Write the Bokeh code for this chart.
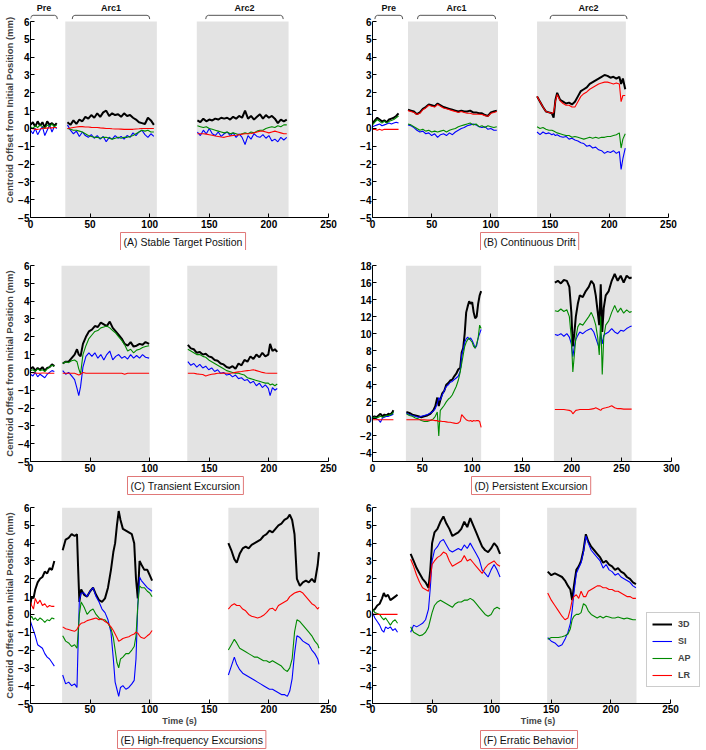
import math
from bokeh.plotting import figure
from bokeh.layouts import column, row
from bokeh.models import Range1d, FixedTicker, Legend, LegendItem, Title
from bokeh.embed import file_html
from bokeh.resources import INLINE
from bokeh.core.properties import value

NAN = float("nan")
SERIES = ["3D", "SI", "AP", "LR"]
COLORS = {"3D": "#000000", "SI": "#0000ff", "AP": "#008a00", "LR": "#ff0000"}

# ---------------- Panel A: Stable Target Position ----------------
A_t = [[0, 2, 4, 6, 8, 10, 12, 14, 16, 18, 20, 22],
       [31, 33.5, 36, 38.5, 41, 43.5, 46, 48.5, 51, 53.5, 56, 58.5, 61, 63.5, 66, 68.5, 71, 73.5, 76, 78.5,
        81, 83.5, 86, 88.5, 91, 93.5, 96, 98.5, 101, 103.5],
       [140, 142.5, 145, 147.5, 150, 152.5, 155, 157.5, 160, 162.5, 165, 167.5, 170, 172.5, 175, 177.5, 180,
        182.5, 185, 187.5, 190, 192.5, 195, 197.5, 200, 202.5, 205, 207.5, 210, 212.5, 215]]
A_3d = [[0.2, 0.35, 0.1, 0.4, 0.15, 0.35, 0.05, 0.4, 0.2, 0.3, 0.15, 0.3],
        [0.35, 0.2, 0.45, 0.25, 0.5, 0.4, 0.65, 0.55, 0.75, 0.6, 0.85, 0.65, 0.9, 1.0, 0.7, 0.85, 0.75, 0.8, 0.65,
         0.85, 0.7, 0.75, 0.6, 0.5, 0.35, 0.3, 0.25, 0.6, 0.45, 0.2],
        [0.45, 0.35, 0.55, 0.4, 0.5, 0.45, 0.55, 0.5, 0.6, 0.55, 0.6, 0.5, 0.65, 0.55, 0.7, 0.6, 1.0, 0.55, 0.7,
         0.5, 0.65, 0.8, 0.55, 0.75, 0.6, 0.7, 0.55, 0.3, 0.5, 0.4, 0.5]]
A_si = [[-0.1, -0.3, 0.0, -0.35, -0.1, 0.1, -0.4, -0.1, 0.2, -0.2, 0.1, 0.0],
        [0.2, -0.1, -0.3, -0.15, -0.45, -0.2, -0.4, -0.5, -0.35, -0.55, -0.4, -0.6, -0.45, -0.75, -0.5, -0.6,
         -0.4, -0.55, -0.45, -0.6, -0.4, -0.5, -0.25, -0.4, -0.2, -0.1, -0.35, -0.5, -0.3, -0.45],
        [-0.2, -0.4, -0.1, -0.3, 0.0, -0.3, -0.4, -0.2, -0.45, -0.3, -0.2, -0.4, -0.25, -0.5, -0.3, -0.5, -0.9,
         -0.4, -0.6, -0.3, -0.45, -0.5, -0.35, -0.55, -0.4, -0.7, -0.6, -0.75, -0.5, -0.65, -0.5]]
A_ap = [[0.1, 0.0, 0.15, 0.05, 0.2, 0.1, 0.0, 0.2, 0.1, 0.25, 0.1, 0.2],
        [0.0, -0.05, -0.1, -0.1, -0.15, -0.2, -0.3, -0.4, -0.45, -0.5, -0.5, -0.55, -0.5, -0.5, -0.55, -0.6,
         -0.55, -0.5, -0.55, -0.5, -0.5, -0.45, -0.4, -0.3, -0.2, -0.1, -0.15, -0.1, -0.2, -0.2],
        [0.15, 0.1, 0.05, 0.1, 0.0, -0.05, -0.1, -0.15, -0.2, -0.25, -0.2, -0.3, -0.25, -0.3, -0.35, -0.3, -0.25,
         -0.3, -0.2, -0.25, -0.15, -0.1, -0.1, 0.0, 0.05, 0.1, 0.05, 0.15, 0.1, 0.2, 0.2]]
A_lr = [[0.0, -0.02, -0.05, -0.05, -0.03, 0.0, 0.02, 0.02, 0.03, 0.03, 0.05, 0.05],
        [0.0, 0.02, 0.05, 0.08, 0.1, 0.1, 0.08, 0.08, 0.06, 0.05, 0.05, 0.03, 0.02, 0.0, 0.0, -0.02, -0.03,
         -0.03, -0.04, -0.05, -0.05, -0.05, -0.05, -0.03, -0.02, 0.0, 0.0, 0.0, 0.0, 0.0],
        [-0.3, -0.3, -0.3, -0.32, -0.35, -0.38, -0.42, -0.45, -0.48, -0.5, -0.45, -0.42, -0.4, -0.38, -0.35,
         -0.32, -0.3, -0.3, -0.28, -0.25, -0.2, -0.15, -0.15, -0.2, -0.25, -0.2, -0.15, -0.2, -0.25, -0.3, -0.3]]
A_arcs = [[29.2, 106], [139.5, 216.5]]
A_brackets = [[0, 22.5], [35, 100], [147, 212]]

# ---------------- Panel B: Continuous Drift ----------------
B_t = [[0, 2, 4, 6, 8, 10, 12, 14, 16, 18, 20, 22],
       [30, 32.5, 35, 37.5, 40, 42.5, 45, 47.5, 50, 52.5, 55, 57.5, 60, 62.5, 65, 67.5, 70, 72.5, 75, 77.5,
        80, 82.5, 85, 87.5, 90, 92.5, 95, 97.5, 100, 102.5, 105],
       [139, 141.5, 144, 146.5, 149, 151.5, 153, 154.5, 156, 158.5, 161, 163.5, 166, 168.5, 171, 173.5, 176,
        178.5, 181, 183.5, 186, 188.5, 191, 193.5, 196, 198.5, 201, 203.5, 206, 208.5, 210, 211.5, 213.5]]
B_3d = [[0.3, 0.45, 0.6, 0.5, 0.4, 0.45, 0.35, 0.5, 0.55, 0.6, 0.7, 0.85],
        [1.05, 1.0, 0.95, 0.8, 0.9, 1.1, 1.2, 1.35, 1.3, 1.25, 1.4, 1.3, 1.2, 1.15, 1.1, 1.05, 1.0, 0.95, 1.0,
         0.95, 0.95, 1.0, 0.9, 0.9, 0.85, 0.85, 0.75, 0.7, 0.9, 0.95, 1.0],
        [1.8, 1.5, 1.2, 0.95, 0.9, 0.85, 0.6, 1.6, 2.0, 1.6, 1.5, 1.4, 1.45, 1.35, 1.5, 1.8, 2.1, 2.2, 2.3, 2.5,
         2.6, 2.7, 2.8, 2.9, 3.0, 2.95, 2.85, 2.9, 2.8, 2.9, 2.5, 2.8, 2.2]]
B_si = [[0.1, 0.15, 0.2, 0.25, 0.15, 0.2, 0.25, 0.3, 0.25, 0.3, 0.35, 0.3],
        [0.2, 0.15, 0.05, -0.1, -0.2, -0.15, -0.3, -0.25, -0.4, -0.3, -0.5, -0.35, -0.3, -0.4, -0.25, -0.35,
         -0.2, -0.1, 0.0, 0.05, 0.15, 0.2, 0.25, 0.2, 0.1, 0.05, 0.1, -0.05, 0.0, -0.1, -0.1],
        [-0.2, -0.35, -0.2, -0.3, -0.25, -0.35, -0.3, -0.4, -0.35, -0.45, -0.5, -0.45, -0.6, -0.55, -0.65, -0.7,
         -0.8, -0.85, -1.0, -0.95, -1.1, -1.05, -1.2, -1.25, -1.4, -1.3, -1.35, -1.25, -1.4, -1.3, -2.3, -1.7,
         -1.1]]
B_ap = [[0.2, 0.35, 0.5, 0.4, 0.3, 0.4, 0.3, 0.4, 0.45, 0.5, 0.6, 0.7],
        [0.25, 0.2, 0.1, 0.0, -0.1, -0.05, -0.15, -0.1, -0.2, -0.15, -0.2, -0.15, -0.1, -0.2, -0.1, -0.05, 0.0,
         0.1, 0.15, 0.2, 0.25, 0.3, 0.2, 0.25, 0.1, 0.15, 0.05, 0.15, 0.1, 0.05, 0.1],
        [0.1, 0.0, 0.05, -0.05, -0.1, -0.1, -0.15, -0.2, -0.25, -0.3, -0.35, -0.4, -0.4, -0.5, -0.45, -0.5,
         -0.55, -0.6, -0.55, -0.5, -0.55, -0.5, -0.55, -0.5, -0.5, -0.45, -0.45, -0.4, -0.35, -0.25, -1.1, -0.6,
         -0.3]]
B_lr = [[-0.05, -0.05, -0.1, -0.05, -0.1, -0.05, -0.05, -0.05, -0.05, -0.05, -0.05, -0.05],
        [1.0, 0.95, 0.9, 0.78, 0.85, 1.05, 1.15, 1.3, 1.25, 1.2, 1.35, 1.25, 1.15, 1.1, 1.05, 1.0, 0.95, 0.9,
         0.95, 0.9, 0.85, 0.85, 0.8, 0.8, 0.8, 0.78, 0.72, 0.68, 0.85, 0.9, 0.95],
        [1.8, 1.5, 1.2, 0.95, 0.9, 0.85, 0.9, 1.5, 1.9, 1.55, 1.4, 1.3, 1.3, 1.2, 1.2, 1.5, 1.8, 1.95, 2.05,
         2.2, 2.3, 2.4, 2.5, 2.55, 2.6, 2.6, 2.55, 2.5, 2.55, 2.5, 1.5, 1.85, 1.85]]
B_arcs = [[30, 106], [139, 214]]
B_brackets = [[2, 25.5], [38, 104], [150, 215]]

# ---------------- Panel C: Transient Excursion ----------------
C_t = [[0, 2, 4, 6, 8, 10, 12, 14, 16, 18, 20],
       [27, 29.5, 32, 34.5, 37, 39, 40.5, 42, 44, 46.5, 49, 51.5, 54, 56.5, 59, 61.5, 64, 66.5, 69, 71.5, 74,
        76.5, 79, 81.5, 84, 86.5, 89, 91.5, 94, 96.5, 99.5],
       [132, 134.5, 137, 139.5, 142, 144.5, 147, 149.5, 152, 154.5, 157, 159.5, 162, 164.5, 167, 169.5, 172,
        174.5, 177, 179.5, 182, 184.5, 187, 189.5, 192, 194.5, 197, 199.5, 201, 203, 205, 207]]
C_3d = [[0.2, 0.3, 0.1, 0.25, 0.15, 0.3, 0.1, 0.25, 0.3, 0.45, 0.35],
        [0.5, 0.6, 0.6, 0.8, 1.0, 1.3, 1.0, 0.9, 1.6, 2.0, 2.3, 2.4, 2.6, 2.55, 2.8, 2.7, 2.6, 2.85, 2.5, 2.3,
         2.1, 1.9, 1.6, 1.5, 1.7, 1.45, 1.5, 1.6, 1.55, 1.7, 1.6],
        [1.55, 1.35, 1.3, 1.1, 1.15, 1.0, 1.05, 0.9, 0.85, 0.7, 0.65, 0.5, 0.45, 0.3, 0.25, 0.35, 0.2, 0.5, 0.4,
         0.7, 0.6, 0.9, 0.75, 1.0, 0.85, 1.1, 0.9, 1.0, 1.6, 1.2, 1.3, 1.15]]
C_si = [[-0.1, -0.2, 0.0, -0.25, -0.1, -0.2, -0.3, -0.1, 0.0, 0.1, 0.05],
        [0.1, -0.1, 0.0, -0.2, -0.4, -0.9, -1.3, -0.8, 0.3, 0.9, 1.1, 0.9, 1.1, 0.8, 1.0, 0.7, 1.0, 1.2, 0.7,
         0.9, 1.0, 0.8, 0.9, 0.75, 1.0, 0.8, 0.95, 0.8, 1.0, 0.85, 0.8],
        [0.6, 0.4, 0.5, 0.3, 0.45, 0.25, 0.35, 0.15, 0.25, 0.05, 0.15, -0.05, 0.0, -0.15, -0.1, -0.25, -0.15,
         -0.35, -0.3, -0.45, -0.4, -0.6, -0.5, -0.75, -0.6, -0.85, -0.7, -0.9, -1.3, -0.85, -1.0, -0.9]]
C_ap = [[0.1, 0.15, 0.05, 0.2, 0.1, 0.15, 0.05, 0.2, 0.3, 0.4, 0.35],
        [0.5, 0.6, 0.55, 0.65, 0.7, 0.6, 0.2, -0.1, 1.0, 1.5, 1.9, 2.1, 2.3, 2.35, 2.5, 2.55, 2.6, 2.5, 2.35,
         2.2, 2.0, 1.8, 1.55, 1.2, 1.3, 1.1, 1.25, 1.3, 1.4, 1.45, 1.5],
        [1.3, 1.2, 1.1, 1.0, 1.0, 0.9, 0.85, 0.7, 0.6, 0.5, 0.4, 0.3, 0.2, 0.1, 0.05, 0.0, -0.05, -0.05, -0.1,
         -0.15, -0.3, -0.35, -0.4, -0.45, -0.5, -0.55, -0.6, -0.6, -0.7, -0.65, -0.75, -0.65]]
C_lr = [[0.0, -0.02, -0.03, -0.05, -0.05, -0.03, -0.03, -0.05, -0.05, -0.05, -0.05],
        [-0.05, -0.05, -0.05, -0.05, -0.05, -0.1, -0.15, -0.1, 0.0, -0.05, -0.05, -0.05, -0.05, -0.05, -0.05,
         -0.05, -0.05, -0.05, -0.05, -0.05, -0.05, -0.05, -0.1, -0.05, -0.05, -0.05, -0.05, -0.05, -0.05, -0.05,
         -0.05],
        [-0.05, -0.05, -0.05, -0.08, -0.1, -0.12, -0.2, -0.15, -0.1, -0.08, -0.05, -0.05, -0.03, -0.05, -0.05,
         -0.03, 0.0, 0.03, 0.05, 0.08, 0.1, 0.12, 0.15, 0.1, 0.05, 0.0, -0.03, -0.05, -0.05, -0.05, -0.05, -0.05]]
C_arcs = [[26, 100], [131.5, 207]]

# ---------------- Panel D: Persistent Excursion ----------------
D_t = [[0, 2, 4, 6, 8, 10, 12, 14, 16, 18, 20, 21],
       [34, 37, 40, 43, 46, 49, 52, 55, 58, 61, 63, 65, 66.5, 68, 70, 72, 74, 76, 78, 80, 82, 84, 86, 88, 89.5,
        91, 92.5, 94, 95.5, 97, 98.5, 100, 101.5, 103, 104.5, 106, 107.5, 109],
       [183, 186, 189, 192, 195, 197.5, 199.5, 201, 202.5, 204, 206, 208, 211, 214, 217, 219.5, 222, 224, 226,
        227.5, 229, 230.5, 232, 234, 237, 240, 243, 246, 249, 252, 255, 258, 260]]
D_3d = [[0.2, 0.3, 0.2, 0.4, 0.6, 0.3, 0.5, 0.4, 0.6, 0.5, 0.8, 1.0],
        [0.8, 0.7, 0.5, 0.4, 0.3, 0.2, 0.3, 0.4, 0.6, 1.0, 1.5, 2.5, 1.5, 2.2, 3.0, 3.3, 4.0, 4.2, 4.5, 4.6, 5.0,
         5.3, 5.8, 6.0, 7.8, 8.3, 10.0, 12.5, 13.2, 13.8, 13.5, 13.7, 12.5, 11.8, 12.0, 13.5, 14.5, 15.0],
        [16.0, 16.2, 15.9, 16.3, 16.2, 15.5, 12.5, 8.5, 10.0, 12.0, 13.5, 14.5, 14.3, 15.0, 15.5, 16.2, 15.8,
         14.5, 12.5, 11.0, 15.8, 10.2, 13.0, 14.5, 15.0, 16.2, 17.0, 16.2, 16.8, 16.0, 16.8, 16.5, 16.6]]
D_si = [[0.1, 0.2, 0.0, -0.1, -0.4, 0.1, 0.2, 0.3, 0.3, 0.4, 0.5, 0.6],
        [0.7, 0.5, 0.4, 0.3, 0.2, 0.3, 0.4, 0.5, 0.7, 0.9, 1.2, 1.8, 2.5, 2.2, 2.8, 3.3, 3.8, 4.0, 4.3, 4.4, 4.6,
         4.8, 5.0, 5.6, 7.5, 8.2, 9.0, 9.4, 9.6, 9.3, 9.5, 9.2, 8.8, 8.3, 8.6, 9.5, 10.0, 10.5],
        [9.9, 9.8, 10.0, 9.7, 10.0, 9.6, 8.8, 7.3, 8.5, 9.3, 9.8, 10.2, 10.0, 10.3, 10.5, 10.6, 10.2, 9.5, 8.8,
         8.3, 10.0, 8.8, 9.8, 10.0, 10.2, 10.6, 10.2, 10.0, 10.4, 10.3, 10.6, 10.8, 10.9]]
D_ap = [[0.1, 0.2, 0.1, 0.2, 0.3, 0.2, 0.3, 0.4, 0.4, 0.5, 0.6, 0.8],
        [0.6, 0.4, 0.3, 0.1, 0.0, -0.2, -0.3, -0.3, -0.2, 0.0, 0.3, 0.8, -2.0, 1.0, 1.3, 1.6, 2.0, 2.3, 2.5, 2.8,
         3.3, 3.8, 4.5, 5.5, 6.5, 7.5, 8.5, 9.0, 9.3, 9.5, 9.2, 9.0, 8.5, 8.3, 8.8, 9.5, 11.0, 10.6],
        [12.7, 12.6, 12.9, 12.6, 12.8, 12.0, 9.5, 5.5, 7.5, 9.5, 10.8, 11.2, 11.0, 11.5, 12.0, 12.5, 11.8, 11.0,
         9.5, 7.5, 12.0, 5.2, 9.5, 11.0, 11.5, 12.5, 13.3, 12.5, 13.0, 12.4, 12.8, 12.5, 12.6]]
D_lr = [[-0.1, -0.1, -0.1, -0.1, -0.1, -0.1, -0.1, -0.1, -0.1, -0.1, -0.1, -0.1],
        [-0.1, -0.1, -0.1, -0.1, -0.1, -0.1, -0.12, -0.15, -0.15, -0.15, -0.2, -0.2, -0.3, -0.25, -0.3, -0.3,
         -0.35, -0.4, -0.4, -0.45, -0.5, -0.55, -0.5, -0.3, 0.5, 0.3, 0.1, -0.1, -0.2, -0.25, -0.2, -0.3, -0.2,
         -0.25, -0.2, -0.2, -0.3, -1.0],
        [1.1, 1.1, 1.1, 1.1, 1.05, 1.0, 0.9, 0.6, 0.8, 1.0, 1.05, 1.1, 1.1, 1.1, 1.1, 1.15, 1.2, 1.3, 1.2, 1.1,
         1.0, 1.2, 1.25, 1.3, 1.4, 1.55, 1.3, 1.2, 1.2, 1.15, 1.15, 1.15, 1.15]]
D_arcs = [[33.5, 109], [182, 260]]

# ---------------- Panel E: High-frequency Excursions ----------------
E_t = [[0, 1, 2.5, 4, 6, 8, 10, 12, 14, 16, 18, 20],
       [27, 29.5, 32, 34.5, 37, 39, 40, 41, 42.5, 45, 47.5, 50, 52.5, 55, 57.5, 60, 62.5, 65, 67.5, 69.5, 71,
        72.5, 74, 75.5, 77.5, 80, 82.5, 85, 87, 88.5, 90, 91.5, 93, 95.5, 98, 100, 102],
       [166, 168.5, 171, 173, 175.5, 178, 180.5, 183, 185.5, 188, 190.5, 193, 195.5, 198, 200.5, 203, 205.5,
        208, 210.5, 213, 215.5, 217.5, 219.5, 221.5, 223.5, 226, 228.5, 231, 233.5, 236, 238.5, 241, 242]]
E_3d = [[0.6, 1.0, 0.9, 1.4, 1.8, 2.0, 2.1, 2.4, 2.3, 2.6, 2.5, 3.0],
        [3.6, 4.2, 4.3, 4.5, 4.4, 4.5, 2.5, 0.7, 1.4, 1.1, 1.0, 1.3, 1.5, 1.1, 0.8, 0.7, 0.9, 1.5, 2.5, 3.5, 4.0,
         5.0, 5.8, 5.3, 4.8, 4.7, 4.6, 4.5, 4.0, 2.0, 0.9, 3.0, 2.8, 2.5, 2.5, 2.2, 1.9],
        [4.0, 3.6, 3.1, 2.9, 3.4, 3.7, 3.8, 3.7, 3.9, 4.0, 4.1, 4.2, 4.4, 4.5, 4.7, 4.6, 4.8, 5.0, 5.1, 5.3, 5.4,
         5.6, 5.3, 4.5, 2.0, 1.6, 1.8, 1.9, 1.8, 2.0, 1.8, 2.8, 3.5]]
E_si = [[-0.4, -0.6, -0.9, -1.2, -1.7, -1.8, -1.9, -2.2, -2.4, -2.5, -2.7, -2.9],
        [-3.4, -3.9, -3.8, -4.0, -3.9, -4.1, -1.5, 0.8, 1.2, 1.2, 1.0, 1.3, 1.5, 1.0, 0.7, 0.3, 0.1, -0.3, -1.0,
         -2.5, -3.8, -4.2, -4.6, -4.1, -4.0, -4.2, -4.1, -3.9, -3.7, -2.5, 0.5, 2.1, 1.9, 1.7, 1.5, 1.4, 1.3],
        [-3.4, -2.9, -2.4, -2.8, -3.1, -3.3, -3.4, -3.5, -3.6, -3.7, -3.8, -3.9, -4.0, -4.1, -4.2, -4.2, -4.3,
         -4.4, -4.5, -4.5, -4.6, -4.3, -3.6, -2.2, -1.2, -1.3, -1.5, -1.6, -1.7, -2.0, -2.2, -2.5, -2.8]]
E_ap = [[-0.2, -0.1, -0.3, -0.2, -0.35, -0.2, -0.3, -0.45, -0.3, -0.35, -0.2, -0.25],
        [-1.2, -1.5, -1.6, -1.8, -1.7, -1.9, -1.0, 0.0, 0.7, 0.4, 0.0, 0.2, 0.3, 0.0, -0.2, -0.3, -0.3, -0.5,
         -0.8, -1.3, -2.0, -2.7, -3.0, -2.5, -2.4, -2.2, -2.2, -2.0, -1.8, -1.2, 0.5, 1.6, 1.5, 1.5, 1.3, 1.2,
         1.0],
        [-2.0, -1.7, -1.4, -1.6, -1.9, -2.0, -2.1, -2.2, -2.3, -2.4, -2.4, -2.5, -2.6, -2.6, -2.7, -2.6, -2.7,
         -2.8, -2.9, -3.1, -3.2, -3.0, -2.5, -1.0, -0.3, -0.4, -0.6, -0.8, -1.0, -1.2, -1.5, -1.7, -1.9]]
E_lr = [[0.7, 0.5, 0.3, 0.9, 0.6, 0.8, 0.5, 0.6, 0.4, 0.5, 0.45, 0.45],
        [-0.7, -0.8, -0.85, -0.9, -0.95, -0.85, -0.7, -0.6, -0.5, -0.45, -0.35, -0.3, -0.25, -0.2, -0.3, -0.25,
         -0.4, -0.5, -0.7, -0.9, -1.1, -1.3, -1.5, -1.45, -1.35, -1.3, -1.25, -1.15, -1.1, -1.0, -1.05, -1.2,
         -1.3, -1.35, -1.2, -1.1, -0.9],
        [0.3, 0.5, 0.6, 0.5, 0.5, 0.3, 0.2, 0.0, -0.1, -0.15, -0.2, -0.15, -0.05, 0.1, 0.3, 0.35, 0.2, 0.5, 0.6,
         0.7, 0.8, 1.0, 1.1, 1.2, 1.25, 1.3, 1.2, 1.0, 0.8, 0.6, 0.5, 0.3, 0.4]]
E_arcs = [[26.5, 102], [166, 242]]

# ---------------- Panel F: Erratic Behavior ----------------
F_t = [[0, 2, 4, 6, 8, 9.5, 11, 13, 15, 17, 19, 21],
       [32, 34.5, 37, 39.5, 42, 44.5, 47, 48.5, 50, 52, 54.5, 57, 59.5, 62, 64.5, 67, 69.5, 72, 74.5, 77, 79.5,
        82, 84.5, 87, 89.5, 92, 94.5, 97, 99.5, 102, 104.5, 107],
       [147, 150, 153, 156, 159, 161.5, 164, 166, 167.5, 169, 171, 173, 175, 177, 179, 181, 183.5, 186, 188.5,
        191, 193.5, 196, 198.5, 201, 203.5, 206, 208.5, 211, 213.5, 216, 218.5, 221]]
F_3d = [[0.2, 0.3, 0.5, 0.6, 0.9, 1.2, 1.0, 1.1, 0.8, 0.9, 1.0, 1.1],
        [3.4, 3.0, 2.6, 2.3, 2.0, 1.8, 1.5, 2.5, 4.0, 4.6, 4.8, 5.2, 5.5, 5.1, 4.8, 4.4, 4.5, 4.6, 4.8, 5.2, 4.9,
         5.4, 5.0, 4.6, 4.2, 3.8, 3.6, 3.5, 3.7, 4.0, 3.8, 3.4],
        [2.4, 2.2, 2.3, 2.2, 2.1, 1.9, 1.6, 1.4, 0.8, 1.6, 2.5, 2.7, 3.0, 3.6, 4.5, 4.1, 3.8, 3.6, 3.4, 3.2, 2.9,
         3.0, 2.8, 2.7, 2.5, 2.6, 2.4, 2.3, 2.1, 2.0, 1.8, 1.7]]
F_si = [[0.1, -0.2, -0.4, -0.6, -0.9, -1.0, -0.7, -0.8, -0.7, -0.9, -0.8, -1.0],
        [-1.0, -0.6, -0.7, -0.6, -0.5, -0.3, 0.3, 1.5, 3.0, 3.6, 3.8, 4.1, 4.2, 3.9, 3.6, 3.5, 3.6, 3.7, 3.6, 3.9,
         3.7, 4.0, 3.7, 3.4, 3.1, 2.5, 2.3, 2.1, 2.5, 2.8, 2.5, 2.1],
        [-1.3, -1.5, -1.6, -1.8, -1.7, -1.4, -1.0, -0.5, 0.2, 1.2, 2.3, 2.6, 2.9, 3.5, 4.4, 4.0, 3.6, 3.4, 3.2,
         3.0, 2.6, 2.8, 2.5, 2.4, 2.2, 2.3, 2.1, 2.0, 1.9, 1.8, 1.6, 1.5]]
F_ap = [[0.3, 0.1, 0.05, 0.0, -0.2, -0.3, -0.2, -0.4, -0.6, -0.4, -0.3, -0.5],
        [-0.7, -1.0, -1.1, -1.2, -1.15, -1.0, -0.7, -0.3, 0.1, 0.5, 0.7, 0.8, 0.7, 0.6, 0.5, 0.4, 0.6, 0.7, 0.7,
         0.8, 0.8, 0.9, 0.8, 0.6, 0.4, 0.2, 0.0, -0.1, 0.0, 0.3, 0.4, 0.3],
        [-1.4, -1.3, -1.3, -1.3, -1.25, -1.2, -1.1, -0.8, -0.3, -0.1, 0.0, 0.0, 0.1, 0.6, 0.5, 0.2, 0.0, -0.1,
         -0.2, -0.1, -0.2, -0.1, -0.15, -0.2, -0.2, -0.15, -0.2, -0.25, -0.2, -0.25, -0.3, -0.3]]
F_lr = [[0.0, 0.0, 0.0, 0.0, 0.0, 0.0, 0.0, 0.0, 0.0, 0.0, 0.0, 0.0],
        [3.1, 2.7, 2.2, 1.8, 1.5, 1.4, 1.3, 2.0, 2.8, 3.0, 3.2, 3.3, 3.5, 3.4, 3.0, 2.7, 2.8, 2.9, 3.0, 3.3, 3.0,
         3.1, 2.9, 2.7, 2.5, 2.3, 2.6, 2.8, 2.9, 3.0, 2.8, 2.7],
        [1.2, 0.8, 0.5, 0.2, -0.1, -0.3, -0.2, 0.3, 0.8, 1.0, 1.1, 0.9, 1.3, 1.0, 1.0, 1.3, 1.4, 1.5, 1.6, 1.6,
         1.5, 1.5, 1.4, 1.4, 1.3, 1.3, 1.2, 1.1, 1.0, 1.0, 0.9, 0.9]]
F_arcs = [[32, 107], [146.5, 221.5]]

BRACKET_NAMES = ["Pre", "Arc1", "Arc2"]
Y_LABEL = "Centroid Offset from Initial Position (mm)"
TICKS_STD = [-5, -4, -3, -2, -1, 0, 1, 2, 3, 4, 5, 6]
TICKS_D = [-4, -2, 0, 2, 4, 6, 8, 10, 12, 14, 16, 18]
X_TICKS_250 = [0, 50, 100, 150, 200, 250]
X_TICKS_300 = [0, 50, 100, 150, 200, 250, 300]

FONT = "Liberation Sans"


def join(segs, ref):
    out = []
    for i, (s, r) in enumerate(zip(segs, ref)):
        assert len(s) == len(r), (len(s), len(r))
        if i:
            out.append(NAN)
        out.extend(s)
    return out


def panel(t, data, arcs, caption, cap_off, xr, xmax_axis, xticks, yr, yticks,
          col, top, bottom, brackets=None, ylab=False, xlab=False, legend=False):
    if col == 0:
        w, bl, br = 353, 30, 25
    else:
        # right column: frame is widened to the page edge so the legend is not clipped;
        # the visible axis stops at its last tick via `bounds`
        w, bl, br = 353, 19, 3
    p = figure(width=w, height=250, output_backend="svg", toolbar_location=None,
               x_range=Range1d(*xr), y_range=Range1d(*yr),
               min_border_left=bl, min_border_right=br, min_border_top=top, min_border_bottom=bottom)
    p.outline_line_color = None
    p.xgrid.visible = False
    p.ygrid.visible = False
    p.background_fill_color = "white"
    p.border_fill_color = "white"

    ytop = yticks[-1]
    ybot = yr[0]
    p.quad(left=[a[0] for a in arcs], right=[a[1] for a in arcs], bottom=ybot, top=ytop,
           fill_color="#e3e3e3", line_color=None)

    tt = join(t, t)
    rends = {}
    for name, seg in zip(SERIES, data):
        y = join(seg, t)
        lw = 2.0 if name == "3D" else 1.1
        rends[name] = p.line(tt, y, line_color=COLORS[name], line_width=lw)

    if brackets is not None:
        xs, ys = [], []
        for b0, b1 in brackets:
            xs.append([b0, b0 + 0.5, b0 + 2.2, b1 - 2.2, b1 - 0.5, b1])
            ys.append([6.14, 6.29, 6.35, 6.35, 6.29, 6.14])
        p.multi_line(xs, ys, line_color="#555555", line_width=1)
        p.text(x=[(b0 + b1) / 2 for b0, b1 in brackets], y=[6.74] * len(brackets), text=BRACKET_NAMES,
               text_font=value(FONT), text_font_style="bold", text_font_size="9px",
               text_align="center", text_baseline="middle", text_color="#111111")

    for ax in (p.xaxis[0], p.yaxis[0]):
        ax.major_tick_in = 4
        ax.major_tick_out = 0
        ax.minor_tick_line_color = None
        ax.axis_line_color = "black"
        ax.major_tick_line_color = "black"
        ax.major_label_text_font = FONT
        ax.major_label_text_font_style = "bold"
        ax.major_label_text_font_size = "10px"
        ax.major_label_text_color = "black"
        ax.major_label_standoff = 2
    p.yaxis.major_label_standoff = 1
    p.xaxis.ticker = FixedTicker(ticks=xticks)
    p.yaxis.ticker = FixedTicker(ticks=yticks)
    p.yaxis.bounds = (ybot, ytop)
    p.xaxis.bounds = (0, xmax_axis)
    if ylab:
        p.yaxis.axis_label = Y_LABEL
        p.yaxis.axis_label_text_font = FONT
        p.yaxis.axis_label_text_font_style = "bold"
        p.yaxis.axis_label_text_font_size = "9.5px"
        p.yaxis.axis_label_standoff = 0
    if xlab:
        p.xaxis.major_label_standoff = 1
        p.xaxis.axis_label = "Time (s)"
        p.xaxis.axis_label_text_font = FONT
        p.xaxis.axis_label_text_font_style = "bold"
        p.xaxis.axis_label_text_font_size = "9px"
        p.xaxis.axis_label_standoff = 0

    # caption box under the axis; align left + offset puts it where the reference has it
    p.add_layout(Title(text=caption, align="left", offset=cap_off, standoff=0,
                       text_font=FONT, text_font_size="10.5px", text_font_style="normal",
                       text_color="#111111", border_line_color="#e07878", border_line_width=1,
                       background_fill_color="white", padding=3), "below")

    if legend:
        lg = Legend(items=[LegendItem(label=n, renderers=[rends[n]]) for n in SERIES],
                    location=(274, 16), orientation="vertical",
                    glyph_width=20, glyph_height=12, label_height=12, label_width=16, spacing=5,
                    label_standoff=6, padding=5, margin=0,
                    label_text_font=FONT, label_text_font_style="bold", label_text_font_size="9px",
                    border_line_color="#999999", background_fill_color="white", background_fill_alpha=1)
        p.add_layout(lg)
    return p


pA = panel(A_t, [A_3d, A_si, A_ap, A_lr], A_arcs, "(A) Stable Target Position", 90,
           (0, 250), 250, X_TICKS_250, (-5, 7.07), TICKS_STD, 0, 2, 33, brackets=A_brackets, ylab=True)
pB = panel(B_t, [B_3d, B_si, B_ap, B_lr], B_arcs, "(B) Continuous Drift", 108,
           (0, 279.6), 250, X_TICKS_250, (-5, 7.07), TICKS_STD, 1, 2, 33, brackets=B_brackets)
pC = panel(C_t, [C_3d, C_si, C_ap, C_lr], C_arcs, "(C) Transient Excursion", 97,
           (0, 250), 250, X_TICKS_250, (-5, 6), TICKS_STD, 0, 15, 39, ylab=True)
pD = panel(D_t, [D_3d, D_si, D_ap, D_lr], D_arcs, "(D) Persistent Excursion", 99,
           (0, 332.1), 300, X_TICKS_300, (-5, 18), TICKS_D, 1, 15, 39)
pE = panel(E_t, [E_3d, E_si, E_ap, E_lr], E_arcs, "(E) High-frequency Excursions", 87,
           (0, 250), 250, X_TICKS_250, (-5, 6), TICKS_STD, 0, 7, 47, ylab=True, xlab=True)
pF = panel(F_t, [F_3d, F_si, F_ap, F_lr], F_arcs, "(F) Erratic Behavior", 108,
           (0, 277.7), 250, X_TICKS_250, (-5, 6), TICKS_STD, 1, 7, 47, xlab=True, legend=True)

layout = column(row(pA, pB), row(pC, pD), row(pE, pF))
open("out.html", "w").write(file_html(layout, INLINE))
